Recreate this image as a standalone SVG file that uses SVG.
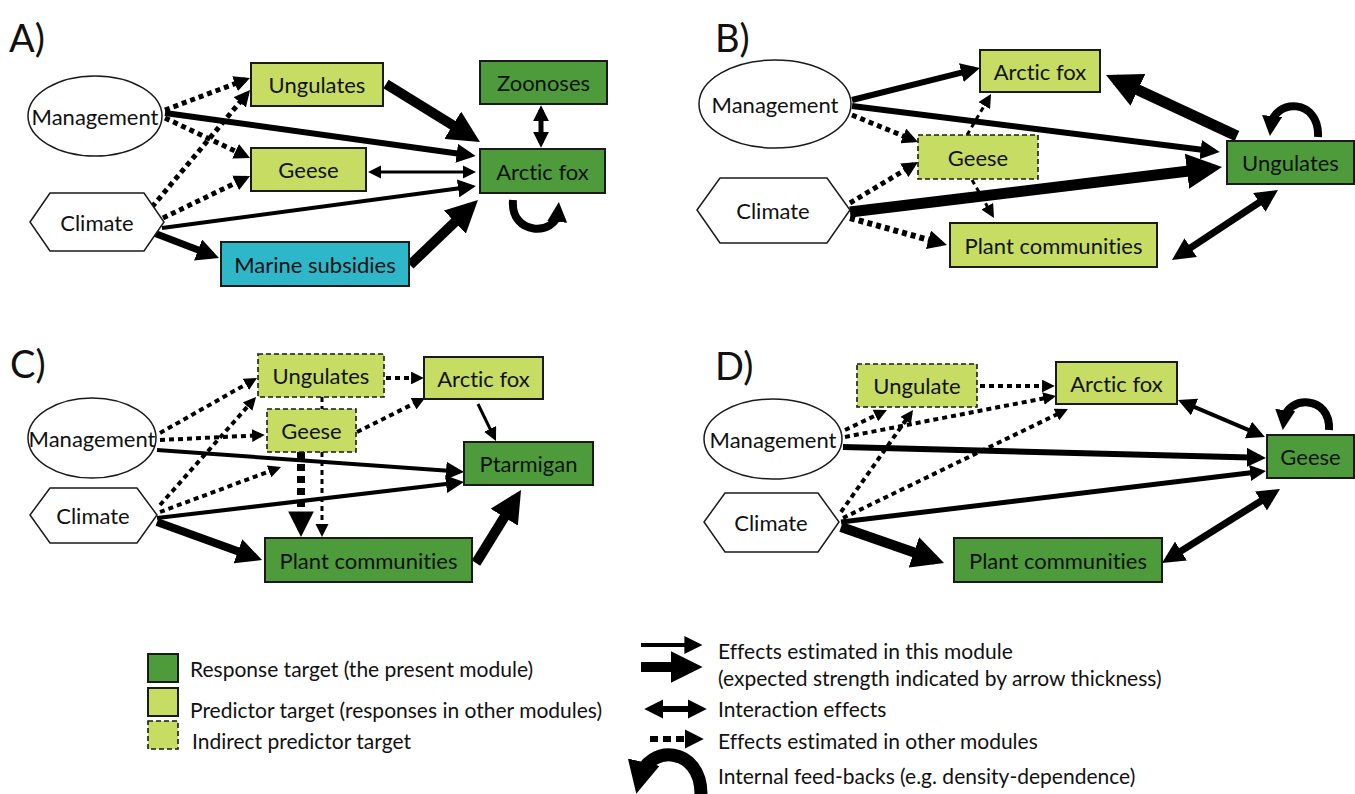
<svg xmlns="http://www.w3.org/2000/svg" width="1355" height="794" viewBox="0 0 1355 794">
<style>
text{font-family:Lato,"Open Sans","Liberation Sans",sans-serif;fill:#111;font-variant-ligatures:none;font-feature-settings:"liga" 0}
.n{font-size:22px;text-anchor:middle;dominant-baseline:central}
.lab{font-size:38px}
.lg{font-size:21px;dominant-baseline:central}
.dk{fill:#4e9b3c;stroke:#1a1a1a;stroke-width:2}
.lt{fill:#c6dc62;stroke:#1a1a1a;stroke-width:2}
.ds{fill:#c6dc62;stroke:#1a1a1a;stroke-width:1.6;stroke-dasharray:5 3}
.wh{fill:#fff;stroke:#1a1a1a;stroke-width:1.5}
.cy{fill:#2eb6c9;stroke:#1a1a1a;stroke-width:2}
.c path,.c line{fill:none;stroke:#000}
.s{marker-end:url(#h)}
.t{marker-end:url(#hs)}
.b{marker-start:url(#h);marker-end:url(#h)}
.bt{marker-start:url(#hs);marker-end:url(#hs)}
.d{stroke-dasharray:5 4}
.l{marker-end:url(#hl)}
</style>
<defs>
<marker id="h" viewBox="0 0 10 10" refX="7" refY="5" markerWidth="3.2" markerHeight="3.2" orient="auto-start-reverse" markerUnits="strokeWidth"><path d="M0,0L10,5L0,10z" fill="#000"/></marker>
<marker id="hs" viewBox="0 0 10 10" refX="7" refY="5" markerWidth="4.5" markerHeight="4.5" orient="auto-start-reverse" markerUnits="strokeWidth"><path d="M0,0L10,5L0,10z" fill="#000"/></marker>
<marker id="hl" viewBox="0 0 10 10" refX="5" refY="5" markerWidth="2.5" markerHeight="2.5" orient="auto" markerUnits="strokeWidth"><path d="M0,0L10,5L0,10z" fill="#000"/></marker>
</defs>

<!-- Panel labels -->
<text class="lab" x="9" y="52">A)</text>
<text class="lab" x="715" y="52">B)</text>
<text class="lab" x="10" y="378">C)</text>
<text class="lab" x="715" y="380">D)</text>

<!-- Connectors -->
<g id="connectors" class="c">
<!-- A -->
<line class="s d" stroke-width="5" x1="165" y1="110" x2="245.5" y2="79.7"/>
<line class="s d" stroke-width="5" x1="165" y1="118" x2="245.7" y2="156"/>
<line class="s" stroke-width="6" x1="165" y1="113" x2="470" y2="155.2"/>
<line class="s d" stroke-width="5" x1="152" y1="207" x2="247" y2="93.7"/>
<line class="s d" stroke-width="5" x1="163" y1="218" x2="245.7" y2="178"/>
<line class="t" stroke-width="4" x1="162" y1="228" x2="470.6" y2="186.7"/>
<line class="s" stroke-width="7" x1="154" y1="233" x2="212.7" y2="255.6"/>
<line class="s" stroke-width="10" x1="386" y1="84" x2="471.8" y2="137"/>
<line class="bt" stroke-width="3" x1="372" y1="172" x2="472" y2="172"/>
<line class="s" stroke-width="10" x1="410" y1="265" x2="471" y2="206.6"/>
<line class="b" stroke-width="5" x1="541" y1="110" x2="541" y2="143"/>
<path class="l" stroke-width="8" d="M513,200 C510,236 556,236 558,212"/>
<!-- B -->
<line class="s" stroke-width="6" x1="852" y1="100" x2="974.4" y2="69.4"/>
<line class="s" stroke-width="6" x1="852" y1="106" x2="1214" y2="151.3"/>
<line class="s d" stroke-width="5" x1="852" y1="115" x2="913.6" y2="140.2"/>
<line class="s d" stroke-width="5" x1="850" y1="203" x2="913.9" y2="164.5"/>
<line class="s" stroke-width="11" x1="850" y1="212" x2="1211.5" y2="168.3"/>
<line class="s d" stroke-width="6" x1="850" y1="218" x2="941.4" y2="243.4"/>
<line class="t d" stroke-width="3" x1="967" y1="135" x2="989" y2="97.5"/>
<line class="t d" stroke-width="3" x1="972" y1="180" x2="992" y2="214.5"/>
<line class="s" stroke-width="11" x1="1237" y1="136" x2="1115.6" y2="79.5"/>
<line class="b" stroke-width="7" x1="1272.4" y1="193.7" x2="1177.6" y2="256.3"/>
<path class="l" stroke-width="8" d="M1318,137 C1320,98 1274,98 1271,126"/>
<!-- C -->
<line class="s d" stroke-width="4" x1="160" y1="433" x2="253.7" y2="379.9"/>
<line class="s d" stroke-width="4" x1="160" y1="440" x2="261" y2="435.2"/>
<line class="t" stroke-width="4" x1="157" y1="450" x2="458.6" y2="471.6"/>
<line class="s d" stroke-width="4" x1="160" y1="505" x2="253.5" y2="399.9"/>
<line class="s d" stroke-width="4" x1="160" y1="512" x2="277.4" y2="468.3"/>
<line class="t" stroke-width="4" x1="157" y1="518" x2="458.6" y2="482.6"/>
<line class="s" stroke-width="8" x1="157" y1="522" x2="254.8" y2="557.4"/>
<line class="s d" stroke-width="4" x1="386" y1="378" x2="420" y2="378"/>
<line class="s d" stroke-width="4" x1="357" y1="432" x2="421.6" y2="399.7"/>
<line class="d" stroke-width="3" x1="322" y1="397" x2="322" y2="409"/>
<line class="s" stroke-width="8" stroke-dasharray="7 5" x1="301" y1="452" x2="301" y2="529.3"/>
<line class="t d" stroke-width="3" x1="322" y1="452" x2="322" y2="533"/>
<line class="t" stroke-width="3" x1="478" y1="404" x2="494.2" y2="437.4"/>
<line class="s" stroke-width="10" x1="476" y1="563" x2="516" y2="498.2"/>
<!-- D -->
<line class="s d" stroke-width="4" x1="845" y1="430" x2="883.5" y2="411.7"/>
<line class="s d" stroke-width="4" x1="845" y1="437" x2="1052.2" y2="396.7"/>
<line class="s" stroke-width="6" x1="843" y1="447" x2="1260.2" y2="457.8"/>
<line class="s d" stroke-width="4" x1="841" y1="512" x2="910.8" y2="413.1"/>
<line class="s d" stroke-width="4" x1="843" y1="518" x2="1064.5" y2="410.7"/>
<line class="s" stroke-width="5" x1="841" y1="522" x2="1261.2" y2="471.6"/>
<line class="s" stroke-width="10" x1="841" y1="527" x2="935" y2="559.8"/>
<line class="s d" stroke-width="4" x1="980" y1="386" x2="1051" y2="386"/>
<line class="bt" stroke-width="4" x1="1183" y1="402.1" x2="1260" y2="434.9"/>
<line class="b" stroke-width="7" x1="1167.7" y1="559.4" x2="1274.3" y2="492.6"/>
<path class="l" stroke-width="8" d="M1329,430 C1331,395 1287,395 1284,420"/>
<!-- legend -->
<line class="t" stroke-width="4" x1="641" y1="645" x2="697" y2="645"/>
<line class="s" stroke-width="10" x1="641" y1="667" x2="693" y2="667"/>
<line class="b" stroke-width="6" x1="650" y1="709" x2="701" y2="709"/>
<line class="s" stroke-width="6" stroke-dasharray="8 5" x1="650" y1="739" x2="698" y2="739"/>
<path class="l" stroke-width="13" d="M701,794 C701,746 648,744 640,778"/>
</g>

<!-- Panel A nodes -->
<g id="A-management"><ellipse class="wh" cx="95" cy="116" rx="67" ry="40"/><text class="n" x="95" y="116">Management</text></g>
<g id="A-climate"><polygon class="wh" points="30,222 50,193 144,193 164,222 144,251 50,251"/><text class="n" x="97" y="222">Climate</text></g>
<g id="A-ungulates"><rect class="lt" x="251" y="63" width="132" height="43"/><text class="n" x="317" y="84.5">Ungulates</text></g>
<g id="A-geese"><rect class="lt" x="251" y="148" width="115" height="43"/><text class="n" x="308.5" y="169.5">Geese</text></g>
<g id="A-zoonoses"><rect class="dk" x="480" y="61" width="127" height="43"/><text class="n" x="543.5" y="82.5">Zoonoses</text></g>
<g id="A-arcticfox"><rect class="dk" x="480" y="149" width="125" height="44"/><text class="n" x="542.5" y="171">Arctic fox</text></g>
<g id="A-marine"><rect class="cy" x="221" y="242" width="188" height="44"/><text class="n" x="315" y="264">Marine subsidies</text></g>

<!-- Panel B nodes -->
<g id="B-management"><ellipse class="wh" cx="775" cy="104" rx="76" ry="44"/><text class="n" x="775" y="104">Management</text></g>
<g id="B-climate"><polygon class="wh" points="697,210 720,178 827,178 850,210 827,243 720,243"/><text class="n" x="773" y="210">Climate</text></g>
<g id="B-arcticfox"><rect class="lt" x="980" y="50" width="120" height="42"/><text class="n" x="1040" y="71">Arctic fox</text></g>
<g id="B-geese"><rect class="ds" x="918" y="135" width="120" height="44"/><text class="n" x="978" y="157">Geese</text></g>
<g id="B-ungulates"><rect class="dk" x="1227" y="141" width="127" height="43"/><text class="n" x="1290.5" y="162.5">Ungulates</text></g>
<g id="B-plant"><rect class="lt" x="950" y="223" width="207" height="44"/><text class="n" x="1053.5" y="245">Plant communities</text></g>

<!-- Panel C nodes -->
<g id="C-management"><ellipse class="wh" cx="92" cy="438" rx="64" ry="40"/><text class="n" x="92" y="438">Management</text></g>
<g id="C-climate"><polygon class="wh" points="30,515 50,488 137,488 157,515 137,543 50,543"/><text class="n" x="93" y="515">Climate</text></g>
<g id="C-ungulates"><rect class="ds" x="258" y="354" width="126" height="43"/><text class="n" x="321" y="375.5">Ungulates</text></g>
<g id="C-geese"><rect class="ds" x="267" y="409" width="89" height="43"/><text class="n" x="311.5" y="430.5">Geese</text></g>
<g id="C-arcticfox"><rect class="lt" x="424" y="357" width="119" height="42"/><text class="n" x="483.5" y="378">Arctic fox</text></g>
<g id="C-ptarmigan"><rect class="dk" x="464" y="442" width="129" height="43"/><text class="n" x="528.5" y="463.5">Ptarmigan</text></g>
<g id="C-plant"><rect class="dk" x="265" y="538" width="207" height="44"/><text class="n" x="368.5" y="560">Plant communities</text></g>

<!-- Panel D nodes -->
<g id="D-management"><ellipse class="wh" cx="773" cy="439" rx="69" ry="40"/><text class="n" x="773" y="439">Management</text></g>
<g id="D-climate"><polygon class="wh" points="704,522 725,493 818,493 839,522 818,552 725,552"/><text class="n" x="771" y="522">Climate</text></g>
<g id="D-ungulate"><rect class="ds" x="857" y="364" width="120" height="43"/><text class="n" x="917" y="385.5">Ungulate</text></g>
<g id="D-arcticfox"><rect class="lt" x="1056" y="362" width="121" height="42"/><text class="n" x="1116.5" y="383">Arctic fox</text></g>
<g id="D-geese"><rect class="dk" x="1267" y="435" width="87" height="43"/><text class="n" x="1310.5" y="456.5">Geese</text></g>
<g id="D-plant"><rect class="dk" x="954" y="538" width="208" height="44"/><text class="n" x="1058" y="560">Plant communities</text></g>

<!-- Legend -->
<g id="legend">
<rect class="dk" x="148" y="654" width="30" height="28"/>
<rect class="lt" x="148" y="688" width="30" height="28"/>
<rect class="ds" x="148" y="721" width="30" height="28"/>
<text class="lg" x="190" y="668">Response target (the present module)</text>
<text class="lg" x="190" y="709">Predictor target (responses in other modules)</text>
<text class="lg" x="192" y="740">Indirect predictor target</text>
<text class="lg" x="718" y="650">Effects estimated in this module</text>
<text class="lg" x="718" y="677">(expected strength indicated by arrow thickness)</text>
<text class="lg" x="718" y="708">Interaction effects</text>
<text class="lg" x="718" y="740">Effects estimated in other modules</text>
<text class="lg" x="718" y="775">Internal feed-backs (e.g. density-dependence)</text>
</g>
</svg>
